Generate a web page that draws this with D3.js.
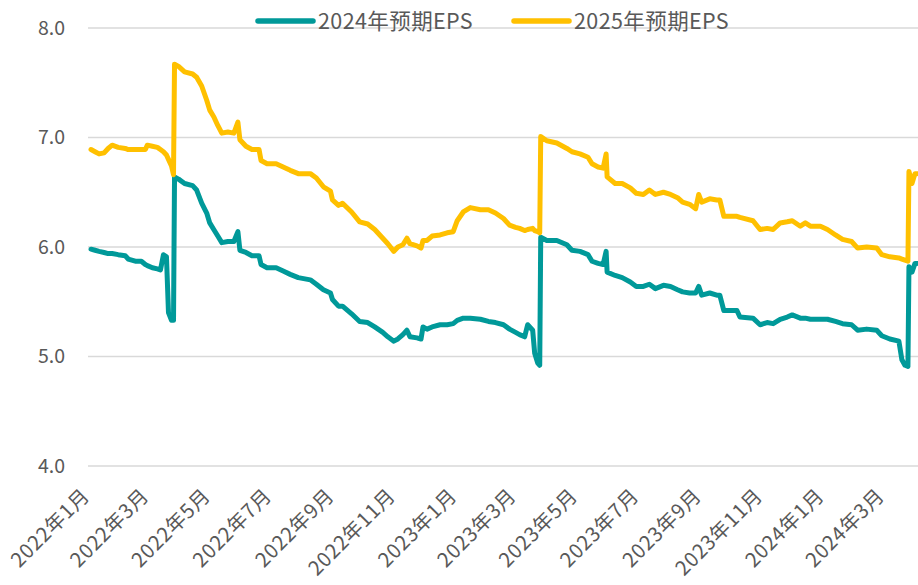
<!DOCTYPE html>
<html><head><meta charset="utf-8">
<script src="https://cdn.jsdelivr.net/npm/d3@7"></script>
<style>
html,body{margin:0;padding:0;background:#fff;}
text{font-family:"Noto Sans CJK SC","Noto Sans",sans-serif;fill:#595959;}
</style></head>
<body><svg id="c" width="918" height="585"></svg>
<script>
const dates = ["2022-01-04","2022-01-08","2022-01-12","2022-01-17","2022-01-21","2022-01-25","2022-01-31","2022-02-07","2022-02-10","2022-02-17","2022-02-23","2022-02-27","2022-03-01","2022-03-06","2022-03-11","2022-03-14","2022-03-17","2022-03-20","2022-03-22","2022-03-25","2022-03-27","2022-03-28","2022-04-01","2022-04-07","2022-04-15","2022-04-19","2022-04-24","2022-04-29","2022-05-02","2022-05-06","2022-05-10","2022-05-14","2022-05-20","2022-05-26","2022-05-30","2022-06-01","2022-06-07","2022-06-13","2022-06-20","2022-06-22","2022-06-28","2022-07-07","2022-07-14","2022-07-21","2022-07-29","2022-08-10","2022-08-16","2022-08-23","2022-08-30","2022-09-01","2022-09-07","2022-09-11","2022-09-20","2022-09-28","2022-10-06","2022-10-13","2022-10-21","2022-10-26","2022-11-01","2022-11-05","2022-11-10","2022-11-14","2022-11-17","2022-11-24","2022-11-28","2022-11-30","2022-12-04","2022-12-09","2022-12-17","2022-12-24","2022-12-30","2023-01-03","2023-01-09","2023-01-16","2023-01-26","2023-02-03","2023-02-10","2023-02-18","2023-02-24","2023-03-02","2023-03-06","2023-03-11","2023-03-14","2023-03-19","2023-03-21","2023-03-24","2023-03-26","2023-03-27","2023-04-02","2023-04-12","2023-04-22","2023-04-27","2023-05-05","2023-05-13","2023-05-17","2023-05-23","2023-05-28","2023-05-31","2023-06-01","2023-06-09","2023-06-16","2023-06-24","2023-06-30","2023-07-07","2023-07-13","2023-07-19","2023-07-27","2023-08-03","2023-08-10","2023-08-15","2023-08-22","2023-08-28","2023-08-31","2023-09-03","2023-09-11","2023-09-18","2023-09-21","2023-09-25","2023-10-08","2023-10-11","2023-10-24","2023-10-31","2023-11-07","2023-11-13","2023-11-20","2023-11-27","2023-12-02","2023-12-10","2023-12-15","2023-12-20","2023-12-30","2024-01-06","2024-01-14","2024-01-21","2024-01-30","2024-02-05","2024-02-14","2024-02-24","2024-02-29","2024-03-08","2024-03-17","2024-03-20","2024-03-23","2024-03-26","2024-03-27","2024-03-30","2024-04-02","2024-04-04"];
const eps2024 = [5.98,5.97,5.96,5.95,5.94,5.94,5.93,5.92,5.89,5.87,5.87,5.84,5.83,5.81,5.80,5.79,5.93,5.91,5.40,5.33,5.33,6.64,6.62,6.58,6.56,6.52,6.40,6.31,6.22,6.16,6.10,6.04,6.05,6.05,6.14,5.97,5.95,5.92,5.92,5.84,5.81,5.81,5.78,5.75,5.72,5.70,5.66,5.61,5.58,5.52,5.46,5.46,5.39,5.32,5.31,5.27,5.22,5.18,5.14,5.16,5.20,5.24,5.18,5.17,5.16,5.27,5.25,5.27,5.29,5.29,5.30,5.33,5.35,5.35,5.34,5.32,5.31,5.29,5.25,5.22,5.20,5.18,5.29,5.24,5.03,4.94,4.92,6.09,6.06,6.06,6.02,5.97,5.96,5.93,5.87,5.85,5.84,5.96,5.77,5.74,5.72,5.68,5.64,5.64,5.66,5.62,5.65,5.64,5.61,5.59,5.58,5.58,5.64,5.56,5.58,5.56,5.56,5.42,5.42,5.36,5.35,5.29,5.31,5.30,5.34,5.36,5.38,5.35,5.35,5.34,5.34,5.34,5.32,5.30,5.29,5.24,5.25,5.24,5.19,5.16,5.14,4.97,4.92,4.91,5.82,5.77,5.85,5.85];
const eps2025 = [6.89,6.87,6.85,6.86,6.90,6.93,6.91,6.90,6.89,6.89,6.89,6.89,6.93,6.92,6.91,6.89,6.87,6.84,6.80,6.74,6.66,7.67,7.65,7.60,7.58,7.55,7.47,7.34,7.25,7.19,7.11,7.04,7.05,7.04,7.14,6.98,6.92,6.89,6.89,6.79,6.76,6.76,6.73,6.70,6.67,6.67,6.63,6.55,6.51,6.43,6.38,6.40,6.32,6.23,6.21,6.16,6.08,6.03,5.96,6.00,6.02,6.08,6.03,6.01,5.99,6.06,6.06,6.10,6.11,6.13,6.14,6.24,6.32,6.36,6.34,6.34,6.31,6.26,6.20,6.18,6.17,6.15,6.16,6.17,6.15,6.14,6.13,7.01,6.97,6.95,6.90,6.87,6.85,6.82,6.76,6.73,6.72,6.85,6.64,6.58,6.58,6.54,6.49,6.48,6.52,6.48,6.50,6.48,6.45,6.41,6.39,6.35,6.48,6.41,6.44,6.43,6.43,6.28,6.28,6.27,6.24,6.16,6.17,6.16,6.22,6.23,6.24,6.19,6.22,6.19,6.19,6.16,6.11,6.07,6.05,5.99,6.00,5.99,5.93,5.91,5.90,5.89,5.88,5.87,6.69,6.58,6.67,6.67];
const yTicks = [4.0,5.0,6.0,7.0,8.0];
const tickDates = ["2022-01-01","2022-03-01","2022-05-01","2022-07-01","2022-09-01","2022-11-01","2023-01-01","2023-03-01","2023-05-01","2023-07-01","2023-09-01","2023-11-01","2024-01-01","2024-03-01"];
const seriesNames = ["2024年预期EPS","2025年预期EPS"];
const colors = ["#009999","#FFC000"];

const parse = d3.timeParse("%Y-%m-%d");
const svg = d3.select("#c");
const x = d3.scaleTime().domain([parse("2022-01-01"), parse("2024-04-05")]).range([88, 918]);
const y = d3.scaleLinear().domain([4, 8]).range([466, 28]);

svg.append("g").selectAll("line").data(yTicks).join("line")
  .attr("x1", 88).attr("x2", 918)
  .attr("y1", d => y(d)).attr("y2", d => y(d))
  .attr("stroke", "#d9d9d9").attr("stroke-width", 1.3);

svg.append("g").selectAll("text").data(yTicks).join("text")
  .attr("x", 65).attr("y", d => y(d)).attr("dy", "0.35em")
  .attr("text-anchor", "end").attr("font-size", 19.5)
  .text(d => d.toFixed(1));

svg.append("g").selectAll("text").data(tickDates).join("text")
  .attr("transform", d => `translate(${x(parse(d)) - 2},492) rotate(-45)`)
  .attr("text-anchor", "end").attr("dy", "0.35em").attr("font-size", 20)
  .attr("letter-spacing", 0.8)
  .text(d => { const t = parse(d); return `${t.getFullYear()}年${t.getMonth()+1}月`; });

const line = d3.line().x((d, i) => x(parse(dates[i]))).y(d => y(d));
[eps2024, eps2025].forEach((s, k) => {
  svg.append("path").datum(s).attr("d", line)
    .attr("fill", "none").attr("stroke", colors[k]).attr("stroke-width", 5)
    .attr("stroke-linejoin", "round").attr("stroke-linecap", "round");
});

const legX = [258, 514];
seriesNames.forEach((n, k) => {
  svg.append("line").attr("x1", legX[k]).attr("x2", legX[k] + 55).attr("y1", 21).attr("y2", 21)
    .attr("stroke", colors[k]).attr("stroke-width", 5.5).attr("stroke-linecap", "round");
  svg.append("text").attr("x", legX[k] + 60).attr("y", 28.5).attr("font-size", 21.5)
    .attr("letter-spacing", 0.4).text(n);
});
</script></body></html>
